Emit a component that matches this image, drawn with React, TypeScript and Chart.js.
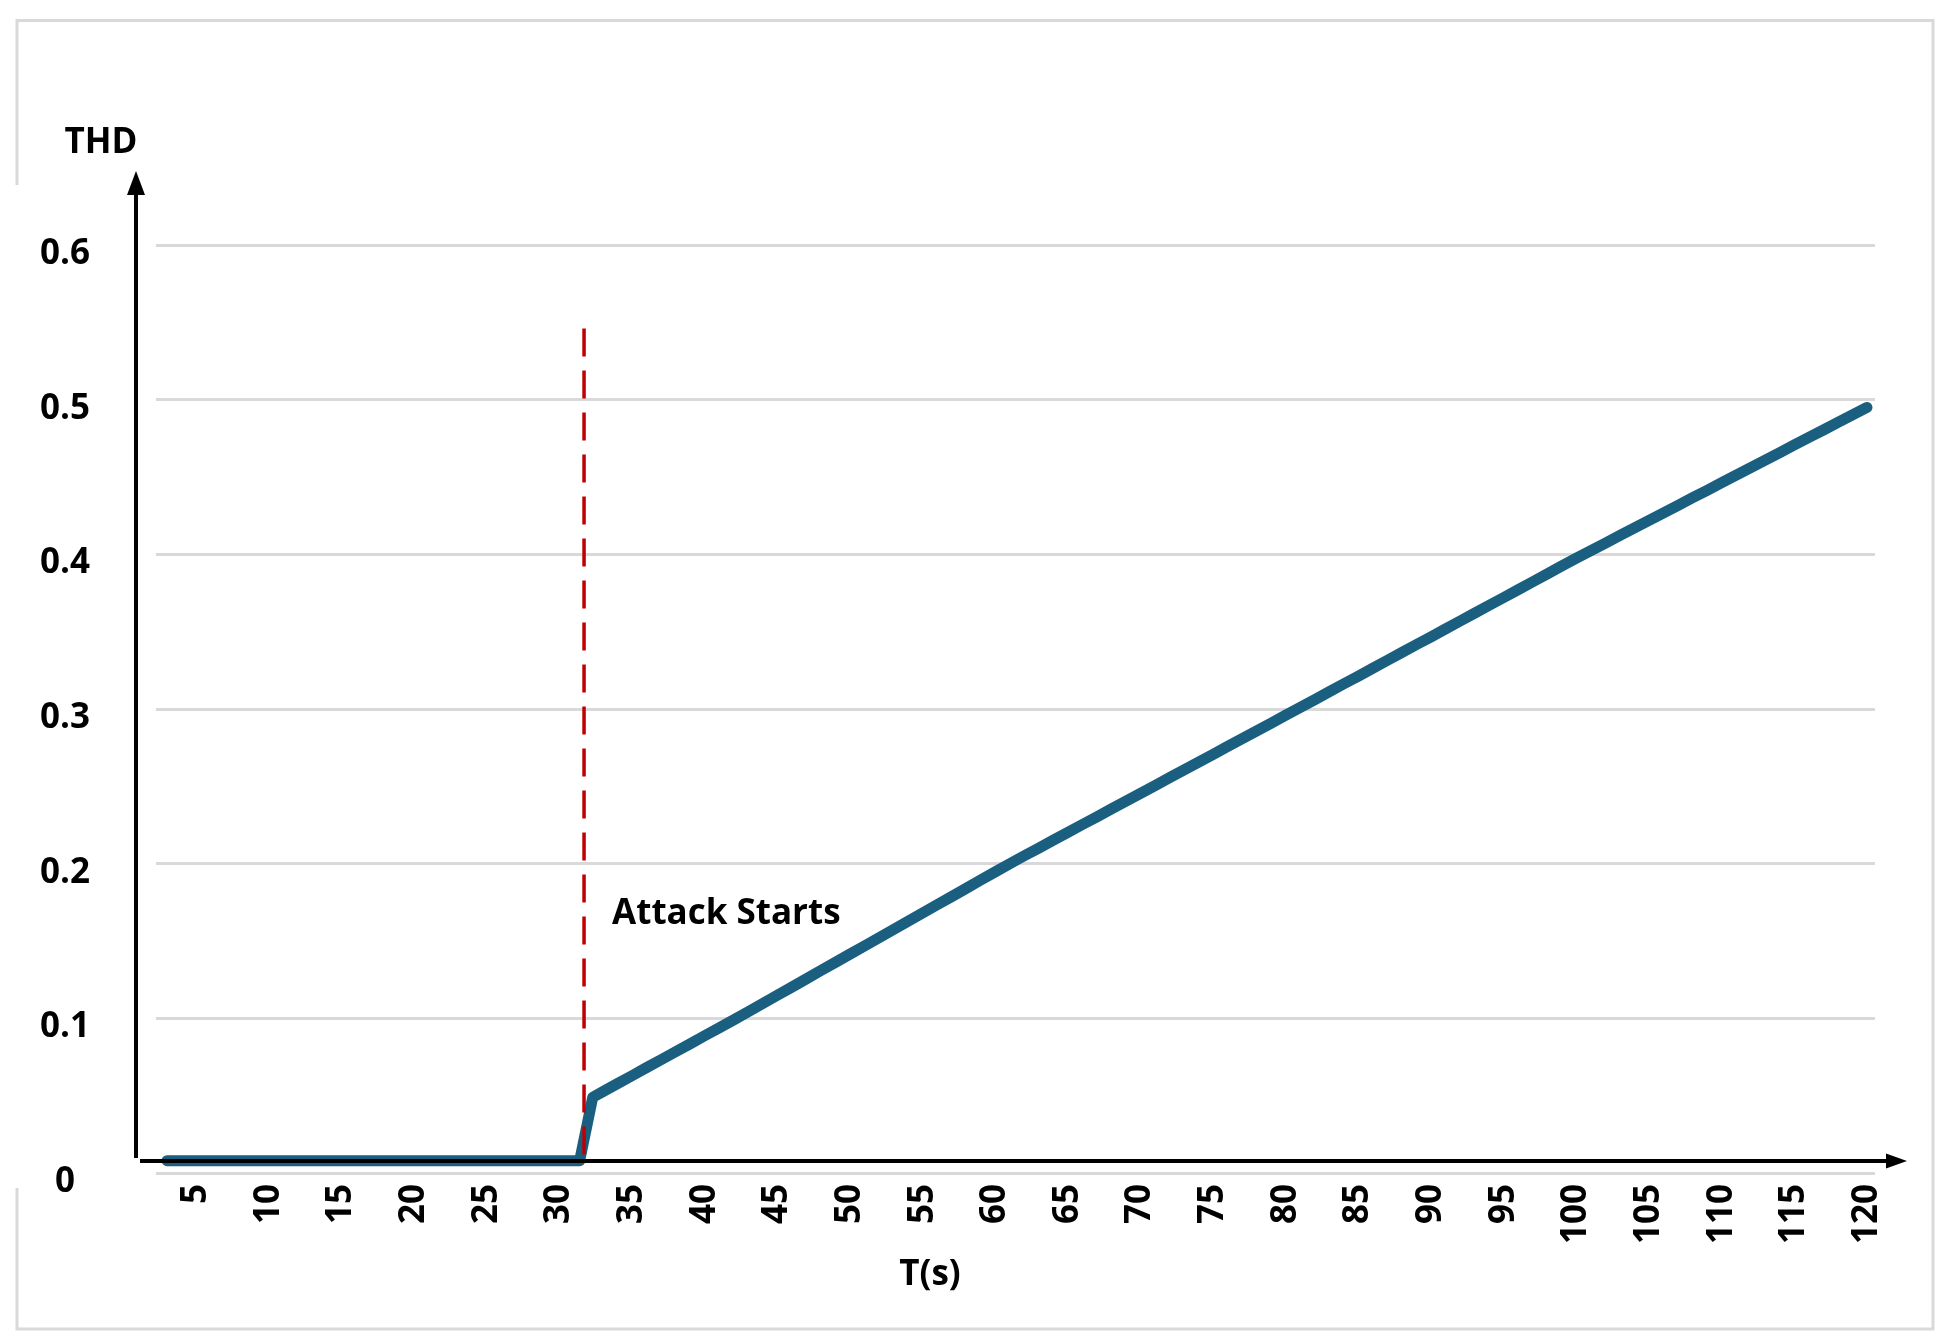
import React, { useEffect, useRef } from 'react';
import { Chart, registerables } from 'chart.js';

Chart.register(...registerables);

// ---- data ----
const timeSec = [
  3, 31.4, 32.3,
  33, 34, 35, 36, 37, 38, 39, 40, 41, 42, 43, 44, 45, 46, 47, 48, 49, 50,
  51, 52, 53, 54, 55, 56, 57, 58, 59, 60, 61, 62, 63, 64, 65, 66, 67, 68, 69, 70,
  71, 72, 73, 74, 75, 76, 77, 78, 79, 80, 81, 82, 83, 84, 85, 86, 87, 88, 89, 90,
  91, 92, 93, 94, 95, 96, 97, 98, 99, 100, 101, 102, 103, 104, 105, 106, 107, 108, 109, 110,
  111, 112, 113, 114, 115, 116, 117, 118, 119, 120,
];
const thdValues = [
  0.008, 0.008, 0.049,
  0.0526, 0.0578, 0.0629, 0.0681, 0.0732, 0.0784, 0.0835, 0.0887, 0.0938, 0.0990,
  0.1043, 0.1096, 0.1149, 0.1202, 0.1255, 0.1309, 0.1362, 0.1415,
  0.1468, 0.1521, 0.1574, 0.1628, 0.1681, 0.1734, 0.1787, 0.1840, 0.1894, 0.1947, 0.2000,
  0.2051, 0.2101, 0.2152, 0.2202, 0.2253, 0.2303, 0.2354, 0.2404, 0.2455,
  0.2505, 0.2556, 0.2606, 0.2657, 0.2707, 0.2758, 0.2808, 0.2859, 0.2909, 0.2960, 0.3010,
  0.3061, 0.3112, 0.3163, 0.3213, 0.3264, 0.3315, 0.3366, 0.3417, 0.3467,
  0.3518, 0.3569, 0.3620, 0.3671, 0.3721, 0.3772, 0.3823, 0.3874, 0.3925, 0.3975,
  0.4024, 0.4073, 0.4122, 0.4171, 0.4219, 0.4268, 0.4317, 0.4366, 0.4414, 0.4463,
  0.4512, 0.4561, 0.4609, 0.4658, 0.4707, 0.4756, 0.4804, 0.4853, 0.4902, 0.4950,
];
const attackTime = [31.7, 31.7];
const attackLevel = [0.546, 0.01];
const attackLabel = 'Attack Starts';
const attackLabelLevel = 0.161;

const xTicks = [5, 10, 15, 20, 25, 30, 35, 40, 45, 50, 55, 60, 65, 70, 75, 80, 85, 90, 95, 100, 105, 110, 115, 120];
const yTicks = [0, 0.1, 0.2, 0.3, 0.4, 0.5, 0.6];
const yTickLabels = ['0', '0.1', '0.2', '0.3', '0.4', '0.5', '0.6'];
const xAxisTitle = 'T(s)';
const yAxisTitle = 'THD';

const FONT_FAMILY = "'Open Sans', Lato, sans-serif";
const FONT_SIZE = 35;
const W = 1940;
const H = 1327;

const decorPlugin = {
  id: 'decor',
  beforeDraw(chart: any) {
    const ctx = chart.ctx;
    ctx.save();
    ctx.strokeStyle = '#d9d9d9';
    ctx.lineWidth = 3;
    ctx.beginPath();
    ctx.moveTo(9, 177);
    ctx.lineTo(9, 12.5);
    ctx.lineTo(1925, 12.5);
    ctx.lineTo(1925, 1321);
    ctx.lineTo(9, 1321);
    ctx.lineTo(9, 1180);
    ctx.stroke();
    ctx.restore();
  },
  afterDatasetsDraw(chart: any) {
    const { ctx, chartArea, scales } = chart;
    ctx.save();
    // axis arrows
    const ax = chartArea.left - 20;
    const ay = chartArea.bottom - 12;
    ctx.strokeStyle = '#000';
    ctx.fillStyle = '#000';
    ctx.lineWidth = 4;
    ctx.beginPath();
    ctx.moveTo(ax, 185);
    ctx.lineTo(ax, ay - 3);
    ctx.stroke();
    ctx.beginPath();
    ctx.moveTo(ax, 163);
    ctx.lineTo(ax - 9, 187);
    ctx.lineTo(ax + 9, 187);
    ctx.closePath();
    ctx.fill();
    ctx.beginPath();
    ctx.moveTo(ax + 4, ay);
    ctx.lineTo(1882, ay);
    ctx.stroke();
    ctx.beginPath();
    ctx.moveTo(1899, ay);
    ctx.lineTo(1878, ay - 7.5);
    ctx.lineTo(1878, ay + 7.5);
    ctx.closePath();
    ctx.fill();

    // texts
    ctx.font = `bold ${FONT_SIZE}px ${FONT_FAMILY}`;
    ctx.textBaseline = 'alphabetic';
    ctx.textAlign = 'center';
    ctx.fillText(yAxisTitle, 93, 145);
    ctx.fillText(xAxisTitle, 922, 1277);
    ctx.textAlign = 'left';
    const lx = scales.x.getPixelForValue(attackTime[0]) + 28;
    const ly = scales.y.getPixelForValue(attackLabelLevel);
    ctx.fillText(attackLabel, lx, ly);
    ctx.restore();
  },
};

export default function App() {
  const ref = useRef<HTMLCanvasElement | null>(null);

  useEffect(() => {
    if (!ref.current) return;
    const chart = new Chart(ref.current, {
      type: 'line',
      data: {
        datasets: [
          {
            label: 'Attack',
            data: attackTime.map((t, i) => ({ x: t, y: attackLevel[i] })),
            borderColor: '#c00000',
            borderWidth: 3.5,
            borderDash: [28, 14],
            pointRadius: 0,
            order: 0,
          },
          {
            label: 'THD',
            data: timeSec.map((t, i) => ({ x: t, y: thdValues[i] })),
            borderColor: '#1a5e80',
            borderWidth: 11,
            borderCapStyle: 'round',
            borderJoinStyle: 'round',
            pointRadius: 0,
            tension: 0,
            order: 1,
          },
        ],
      },
      options: {
        responsive: false,
        animation: false,
        events: [],
        layout: { padding: { top: 237, left: 0, right: W - 1867, bottom: 62 } },
        plugins: { legend: { display: false }, tooltip: { enabled: false } },
        scales: {
          x: {
            type: 'linear',
            min: 2.24,
            max: 120.55,
            grid: { display: false },
            border: { display: false },
            afterBuildTicks: (scale: any) => {
              scale.ticks = xTicks.map((v) => ({ value: v }));
            },
            afterFit: (scale: any) => {
              scale.height = 100;
            },
            ticks: {
              autoSkip: false,
              minRotation: 90,
              maxRotation: 90,
              padding: 3,
              color: '#000',
              font: { family: FONT_FAMILY, size: FONT_SIZE, weight: 'bold' },
              callback: (v: any) => String(v),
            },
          },
          y: {
            type: 'linear',
            min: 0,
            max: 0.6,
            grid: { color: '#d9d9d9', lineWidth: 3, drawTicks: false },
            border: { display: false },
            afterBuildTicks: (scale: any) => {
              scale.ticks = yTicks.map((v) => ({ value: v }));
            },
            afterFit: (scale: any) => {
              scale.width = 148;
            },
            ticks: {
              crossAlign: 'center',
              padding: 66,
              labelOffset: 9,
              color: '#000',
              font: { family: FONT_FAMILY, size: FONT_SIZE, weight: 'bold' },
              callback: (_v: any, i: number) => yTickLabels[i],
            },
          },
        },
      },
      plugins: [decorPlugin],
    } as any);
    return () => chart.destroy();
  }, []);

  return (
    <div style={{ width: W, height: H }}>
      <canvas ref={ref} width={W} height={H} style={{ display: 'block', width: W, height: H }} />
    </div>
  );
}
